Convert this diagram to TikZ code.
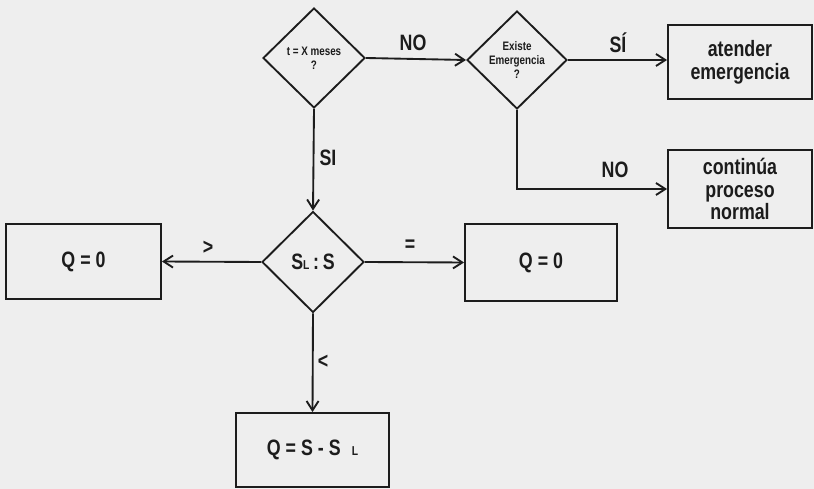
\documentclass[tikz,border=0pt]{standalone}
\usepackage{fontspec}
\setmainfont{Liberation Sans}[FakeStretch=0.8]
\usetikzlibrary{positioning, shapes.geometric, arrows.meta}
\definecolor{papel}{HTML}{EEEEEE}
\definecolor{tinta}{HTML}{1C1C1C}

\begin{document}
\begin{tikzpicture}[x=0.03cm, y=-0.03cm, font=\bfseries, line width=1.6pt,
    caja/.style={draw=tinta, rectangle, align=center, inner sep=0pt, text=tinta},
    rombo/.style={draw=tinta, diamond, align=center, inner sep=0pt, text=tinta},
    flecha/.style={draw=tinta, -{Straight Barb[length=2.8mm,width=3.6mm]}},
    etq/.style={text=tinta, font=\fontsize{19}{19}\bfseries\selectfont}]
    % fondo de la hoja
    \fill[papel] (0,0) rectangle (814,489);
    \useasboundingbox (0,0) rectangle (814,489);

    % decisiones
    \node[rombo, minimum width=3.06cm, minimum height=3cm,
          font=\fontsize{10.5}{12}\bfseries\selectfont] (mes) at (314,58)
          {t = X meses\\?};
    \node[rombo, minimum width=3cm, minimum height=2.94cm,
          font=\fontsize{10.5}{12}\bfseries\selectfont] (emer) at (517,60)
          {Existe\\Emergencia\\?};
    \node[rombo, minimum width=3.06cm, minimum height=3.03cm,
          font=\fontsize{19}{19}\bfseries\selectfont] (comp) at (313,262)
          {S{\fontsize{11}{11}\selectfont L}\,:\,S};

    % acciones
    \node[caja, minimum width=4.32cm, minimum height=2.22cm,
          font=\fontsize{19}{19.5}\bfseries\selectfont] (aten) at (740,62)
          {atender\\emergencia};
    \node[caja, minimum width=4.32cm, minimum height=2.34cm,
          font=\fontsize{19}{19.5}\bfseries\selectfont] (cont) at (740,189)
          {continúa\\proceso\\normal};
    \node[caja, minimum width=4.65cm, minimum height=2.25cm,
          font=\fontsize{19}{19}\bfseries\selectfont] (qizq) at (83.5,261.5)
          {Q = 0};
    \node[caja, minimum width=4.56cm, minimum height=2.31cm,
          font=\fontsize{19}{19}\bfseries\selectfont] (qder) at (541,262.5)
          {Q = 0};
    \node[caja, minimum width=4.59cm, minimum height=2.22cm,
          font=\fontsize{19}{19}\bfseries\selectfont] (qres) at (312.5,450)
          {Q = S - S\; {\fontsize{11}{11}\selectfont L}};

    % conectores
    \draw[flecha] (mes.east) -- (emer.west);
    \draw[flecha] (mes.south) -- (comp.north);
    \draw[flecha] (emer.east) -- (emer.east -| aten.west);
    \draw[flecha] (emer.south) |- (cont.west);
    \draw[flecha] (comp.west) -- (qizq.east);
    \draw[flecha] (comp.east) -- (qder.west);
    \draw[flecha] (comp.south) -- (qres.north);

    % etiquetas
    \node[etq] (lno1) at (413,43) {NO};
    \node[etq] (lsi1) at (328,158) {SI};
    \node[etq] (lsi2) at (618,43) {SÍ};
    \node[etq] (lno2) at (615,170) {NO};
    \node[etq] (lmay) at (208,248) {>};
    \node[etq] (ligu) at (410,246) {=};
    \node[etq] (lmen) at (323,362) {<};
\end{tikzpicture}
\end{document}
